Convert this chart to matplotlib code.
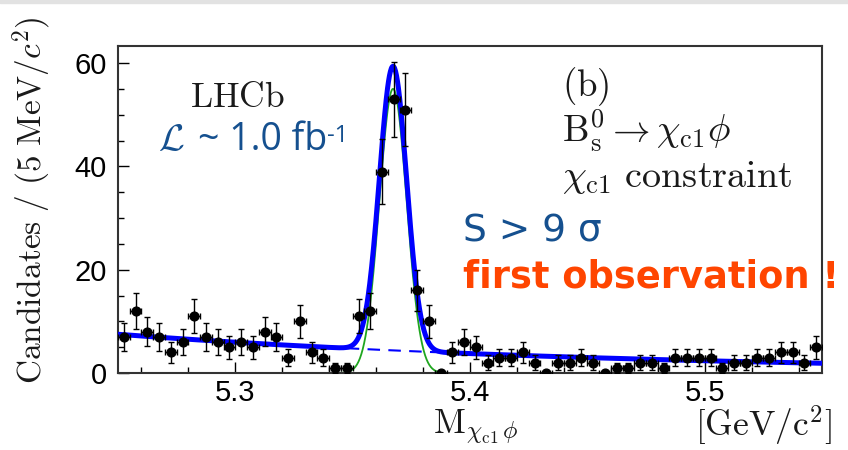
import numpy as np
import matplotlib
matplotlib.use("Agg")
import matplotlib.pyplot as plt
from matplotlib.patches import Rectangle
from matplotlib.ticker import MultipleLocator

plt.rcParams['mathtext.fontset'] = 'cm'
plt.rcParams['font.family'] = ['Liberation Sans', 'DejaVu Sans']

# ---- data (5 MeV bins from 5.25 to 5.55 GeV) ----
bin_lo = 5.25
bin_w = 0.005
counts = [7, 12, 8, 7, 4, 6, 11, 7, 6, 5, 6, 5, 8, 7, 3, 10, 4, 3, 1, 1,
          11, 12, 39, 53, 51, 16, 10, 0, 4,
          6, 5, 2, 3, 3, 4, 2, 0, 2, 2, 3, 2, 0, 1, 1, 2, 2, 1, 3, 3, 3, 3,
          1, 2, 2, 3, 3, 4, 4, 2, 5]

# ---- fit model parameters ----
bkg_norm = 7.5      # background at 5.25 GeV (per bin)
bkg_slope = 4.6     # exponential slope (1/GeV)
sig_amp = 55.0      # gaussian peak (per bin)
sig_mean = 5.3672
sig_sigma = 0.0058

x_ticks = [5.3, 5.4, 5.5]
x_tick_labels = ['5.3', '5.4', '5.5']
y_ticks = [0, 20, 40, 60]

W, H = 848, 450
fig = plt.figure(figsize=(W / 100, H / 100), dpi=100)
fig.patches.append(Rectangle((0, 1 - 3 / H), 1, 3 / H, transform=fig.transFigure,
                             color='#e2e2e2', zorder=0))

L, R, T, B = 118, 822, 46, 373
ax = fig.add_axes([L / W, (H - B) / H, (R - L) / W, (B - T) / H])

counts = np.array(counts, dtype=float)
centers = bin_lo + bin_w * (np.arange(len(counts)) + 0.5)
yerr = np.sqrt(counts)

m = np.linspace(5.25, 5.55, 1500)
bkg = bkg_norm * np.exp(-bkg_slope * (m - 5.25))
sig = sig_amp * np.exp(-0.5 * ((m - sig_mean) / sig_sigma) ** 2)

ax.plot(m, sig, color='#1fa61f', lw=1.3, zorder=2)
ax.plot(m, bkg, color='#0000ff', lw=1.5, dashes=(6, 4), zorder=2)
ax.plot(m, bkg + sig, color='#0000ff', lw=3.6, zorder=3, solid_capstyle='round')

ax.errorbar(centers, counts, yerr=yerr, xerr=bin_w / 2, fmt='o', color='black',
            ms=6.3, elinewidth=1.0, capsize=2.2, capthick=1.0, zorder=4)

ax.set_xlim(5.25, 5.55)
ax.set_ylim(0, 63.3)
ax.set_xticks(x_ticks)
ax.set_xticklabels(x_tick_labels)
ax.set_yticks(y_ticks)
ax.xaxis.set_minor_locator(MultipleLocator(0.02))
ax.yaxis.set_minor_locator(MultipleLocator(5))
ax.tick_params(which='both', direction='in', top=False, right=False,
               labelsize=21, colors='black')
ax.tick_params(which='major', length=8, width=1.0)
ax.tick_params(which='minor', length=4, width=1.0)
ax.tick_params(axis='y', pad=8)
ax.tick_params(axis='x', pad=4)
for sp in ax.spines.values():
    sp.set_linewidth(1.5)
    sp.set_color('#333333')


def px(x, y):
    return x / W, 1 - y / H


serif_col = '#1a1a1a'
fig.text(*px(190, 107), r'$\mathrm{LHCb}$', fontsize=25.5, color=serif_col, va='baseline')

blue_txt = '#15508f'
fig.text(*px(158, 150), r'$\mathcal{L}$', fontsize=27, color=blue_txt, va='baseline')
t_lum = fig.text(*px(198, 150), '~ 1.0 fb', fontsize=27, color=blue_txt, va='baseline',
                 family=['Open Sans', 'DejaVu Sans'])
ax.annotate('-1', xy=(1.0, 0.93), xycoords=t_lum, ha='left', va='top',
            fontsize=17, color=blue_txt, family=['Open Sans', 'DejaVu Sans'],
            annotation_clip=False)

fig.text(*px(562, 96), r'$\mathrm{(b)}$', fontsize=26.5, color=serif_col, va='baseline')
fig.text(*px(562, 142), r'$\mathrm{B}^{0}_{\mathrm{s}}\rightarrow\chi_{\mathrm{c1}}\phi$',
         fontsize=27, color=serif_col, va='baseline')
fig.text(*px(562, 187), r'$\chi_{\mathrm{c1}}\ \mathrm{constraint}$',
         fontsize=27.5, color=serif_col, va='baseline')

fig.text(*px(463, 242), 'S > 9 σ', fontsize=27, color=blue_txt, va='baseline',
         family='DejaVu Sans')
fig.text(*px(463, 287), 'first observation !', fontsize=26.5, color='#ff4500',
         va='baseline', family='DejaVu Sans', fontweight='bold')

fig.text(*px(32, 200), r'$\mathrm{Candidates\ /\ (5\ MeV/}c^{2}\mathrm{)}$',
         fontsize=24, color=serif_col, rotation=90, ha='center', va='center')
fig.text(*px(433, 434), r'$\mathrm{M}_{\chi_{\mathrm{c1}}\,\phi}$', fontsize=25,
         color=serif_col, va='baseline')
fig.text(*px(832, 437), r'$\mathrm{[GeV/c^{2}]}$', fontsize=25.5, color=serif_col,
         va='baseline', ha='right')

fig.savefig('out.png', dpi=100)
